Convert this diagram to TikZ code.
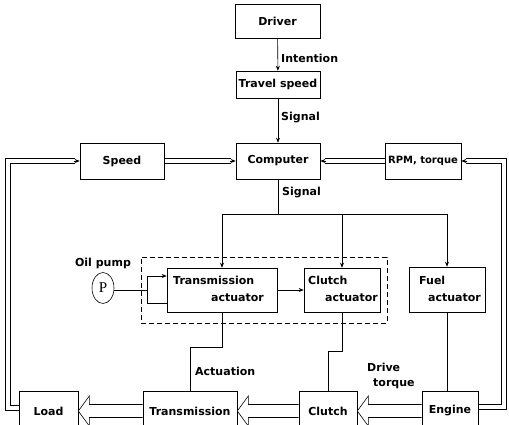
\documentclass[tikz,border=0pt]{standalone}
\usepackage{fontspec}
\setmainfont{DejaVu Sans}
\newfontfamily\pserif{Liberation Serif}
\usetikzlibrary{calc,arrows.meta,shapes.geometric}
\newcommand\hollowarrow[2]{%
  \draw[ln,fill=white] ($(#1.west)+(0,-6.5)$) -- ($(#2.east)+(11,-6.5)$) -- ($(#2.east)+(11,-15)$) -- (#2.east) -- ($(#2.east)+(11,15)$) -- ($(#2.east)+(11,6.5)$) -- ($(#1.west)+(0,6.5)$);}
\newcommand\dblh[2]{%
  \draw[ln] ($(#1)+(0,-2.3)$) -- ($(#2)+(0,-2.3)$);
  \draw[ln] ($(#1)+(0,2.3)$) -- ($(#2)+(0,2.3)$);}
\begin{document}
\begin{tikzpicture}[x=1pt,y=-1pt,
  every node/.style={font=\bfseries\fontsize{11}{12}\selectfont},
  box/.style={draw,line width=0.6pt,inner sep=0pt},
  ln/.style={line width=0.6pt},
  tip/.style={-{Stealth[length=5pt,width=4pt]}},
  lbl/.style={inner sep=0pt}]
\clip (0,0) rectangle (509,424);
\useasboundingbox (0,0) rectangle (509,424);
% top chain
\node[box,minimum width=85pt,minimum height=34pt] (driver) at (277.5,21) {Driver};
\node[box,minimum width=84pt,minimum height=27pt] (travel) at (278,84.5) {Travel speed};
\node[box,minimum width=84pt,minimum height=36pt] (computer) at (278,161) {Computer};
\node[box,minimum width=84pt,minimum height=36pt] (speed) at (122,161) {Speed};
\node[box,minimum width=76pt,minimum height=36pt,font=\bfseries\fontsize{10}{12}\selectfont] (rpm) at (423,161) {RPM, torque};
% group
\node[draw,dashed,line width=0.6pt,dash pattern=on 5pt off 3pt,minimum width=246pt,minimum height=66pt,inner sep=0pt] (grp) at (264,290) {};
% actuators
\node[box,minimum width=110pt,minimum height=44pt] (ta) at (222,290) {};
\node[lbl,anchor=west] (ta1) at (173,280) {Transmission};
\node[lbl,anchor=east] (ta2) at (264,298) {actuator};
\node[box,minimum width=76pt,minimum height=44pt] (ca) at (342,290) {};
\node[lbl,anchor=west] (ca1) at (308,280) {Clutch};
\node[lbl,anchor=east] (ca2) at (378,298) {actuator};
\node[box,minimum width=76pt,minimum height=45pt] (fa) at (447,289.5) {};
\node[lbl,anchor=west] (fa1) at (419,280) {Fuel};
\node[lbl,anchor=east] (fa2) at (481,298) {actuator};
% pump
\node[draw,ellipse,line width=0.6pt,minimum width=22pt,minimum height=31pt,inner sep=0pt,font=\pserif\fontsize{15}{15}\selectfont] (pump) at (103,288) {P};
\node[lbl] (oil) at (103,263) {Oil pump};
% bottom
\node[box,minimum width=59pt,minimum height=40pt] (load) at (48.5,411) {Load};
\node[box,minimum width=94pt,minimum height=40pt] (trans) at (190,411) {Transmission};
\node[box,minimum width=58pt,minimum height=40pt] (clutch) at (328,411) {Clutch};
\node[box,minimum width=56pt,minimum height=40pt] (engine) at (450,411) {Engine};
% labels
\node[lbl,anchor=west] (intention) at (281,58) {Intention};
\node[lbl,anchor=west] (sig1) at (281,118) {Signal};
\node[lbl,anchor=west] (sig2) at (282,193) {Signal};
\node[lbl,anchor=west] (actu) at (195,371) {Actuation};
\node[lbl,anchor=west] (drive) at (367,367) {Drive};
\node[lbl,anchor=west] (torque) at (373,384) {torque};
% connectors
\draw[ln,tip] (driver) -- (travel);
\draw[ln,tip] (travel) -- (computer);
\coordinate (bl) at (222,214);
\coordinate (bm) at (342,214);
\coordinate (br) at (447,214);
\draw[ln] (computer.south) -- (computer.south |- bl);
\draw[ln] (bl) -- (br);
\draw[ln,tip] (bl) -- (ta.north);
\draw[ln,tip] (bm) -- (ca.north);
\draw[ln,tip] (br) -- (fa.north);
\draw[ln,tip] (ta.east) -- (ca.west);
\coordinate (pj) at (147,290);
\coordinate (pt) at (147,276);
\coordinate (pb) at (147,303);
\draw[ln] (pump.east |- pj) -- (pj);
\draw[ln] (pt) -- (pb);
\draw[ln,tip] (pt) -- (pt -| ta.west);
\draw[ln] (pb) -- (pb -| ta.west);
\coordinate (a1) at (222,347);
\coordinate (a2) at (190,347);
\draw[ln] (ta.south) -- (a1) -- (a2) -- (trans.north);
\coordinate (c1) at (342,351);
\coordinate (c2) at (328,351);
\draw[ln] (ca.south) -- (c1) -- (c2) -- (clutch.north);
\draw[ln] (fa.south) -- (fa.south |- engine.north);
% power flow
\hollowarrow{engine}{clutch}
\hollowarrow{clutch}{trans}
\hollowarrow{trans}{load}
% feedback, left
\coordinate (ll) at (8,408);
\coordinate (lu) at (8,161);
\coordinate (le) at (load.west |- ll);
\coordinate (se) at ($(speed.west)+(-5,0)$);
\draw[ln] ($(le)+(0,2.3)$) -- ($(ll)+(-2.3,2.3)$) -- ($(lu)+(-2.3,-2.3)$) -- ($(se)+(0,-2.3)$);
\draw[ln] ($(le)+(0,-2.3)$) -- ($(ll)+(2.3,-2.3)$) -- ($(lu)+(2.3,2.3)$) -- ($(se)+(0,2.3)$);
\draw[ln,tip] ([xshift=-6pt]speed.west) -- (speed.west);
\coordinate (cw) at ($(computer.west)+(-5,0)$);
\dblh{speed.east}{cw}
\draw[ln,tip] ([xshift=-6pt]computer.west) -- (computer.west);
% feedback, right
\coordinate (rl) at (504,407);
\coordinate (ru) at (504,161);
\coordinate (re) at (engine.east |- rl);
\coordinate (rr) at ($(rpm.east)+(5,0)$);
\draw[ln] ($(re)+(0,2.3)$) -- ($(rl)+(2.3,2.3)$) -- ($(ru)+(2.3,-2.3)$) -- ($(rr)+(0,-2.3)$);
\draw[ln] ($(re)+(0,-2.3)$) -- ($(rl)+(-2.3,-2.3)$) -- ($(ru)+(-2.3,2.3)$) -- ($(rr)+(0,2.3)$);
\draw[ln,tip] ([xshift=6pt]rpm.east) -- (rpm.east);
\coordinate (ce) at ($(computer.east)+(5,0)$);
\dblh{rpm.west}{ce}
\draw[ln,tip] ([xshift=6pt]computer.east) -- (computer.east);
\end{tikzpicture}
\end{document}
